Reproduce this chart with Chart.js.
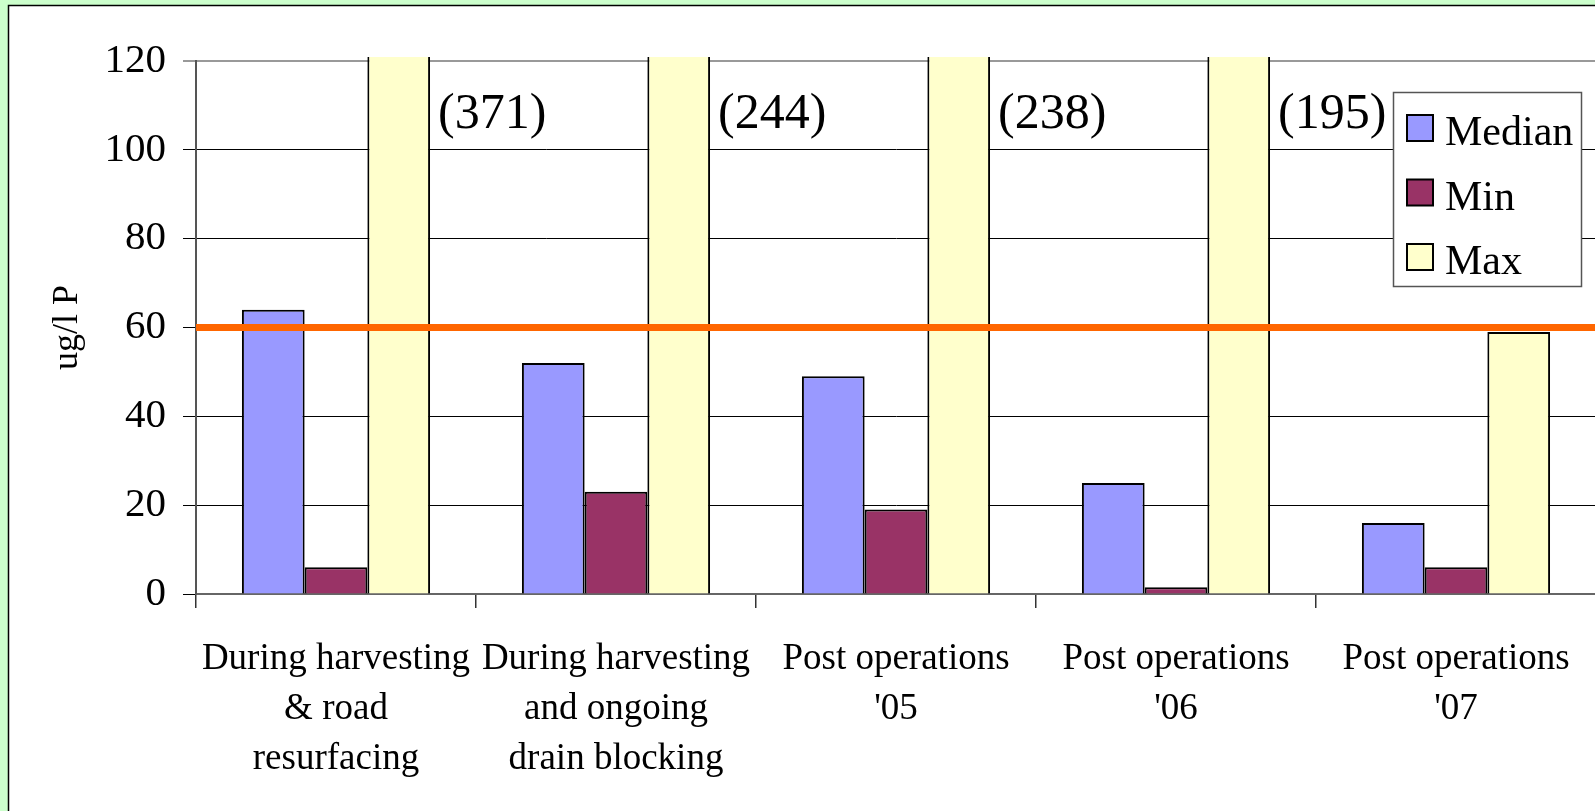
<!DOCTYPE html>
<html>
<head>
<meta charset="utf-8">
<title>Total P concentrations</title>
<script src="https://cdn.jsdelivr.net/npm/chart.js@4/dist/chart.umd.min.js"></script>
<style>
  html, body { margin: 0; padding: 0; overflow: hidden; background: #ccffcc; }
  #wrap { width: 1595px; height: 811px; overflow: hidden; }
  canvas { display: block; }
</style>
</head>
<body>
<div id="wrap"><canvas id="p-chart" width="1600" height="811"></canvas></div>
<script>
const categories = [
    ['During harvesting', '& road', 'resurfacing'],
    ['During harvesting', 'and ongoing', 'drain blocking'],
    ['Post operations', "'05"],
    ['Post operations', "'06"],
    ['Post operations', "'07"]
];
const medianValues = [64, 52, 49, 25, 16];
const minValues = [6, 23, 19, 1.5, 6];
const maxValues = [371, 244, 238, 195, 59];
const yTicks = [0, 20, 40, 60, 80, 100, 120];
const guideline = 60;
const seriesNames = ['Median', 'Min', 'Max'];
const seriesColors = ['#9999ff', '#993366', '#ffffcc'];

const serif = '"Liberation Serif", "Times New Roman", serif';

// green page with the white panel framed on the left and top
const framePlugin = {
    id: 'frame',
    beforeDraw(chart) {
        const {ctx, width, height} = chart;
        ctx.save();
        ctx.fillStyle = '#ccffcc';
        ctx.fillRect(0, 0, width, height);
        ctx.fillStyle = '#ffffff';
        ctx.fillRect(8, 5, width, height);
        ctx.strokeStyle = '#000000';
        ctx.lineWidth = 1.5;
        ctx.beginPath();
        ctx.moveTo(8.5, height);
        ctx.lineTo(8.5, 5.5);
        ctx.lineTo(width, 5.5);
        ctx.stroke();
        ctx.restore();
    }
};

// orange reference line across the plot
const guidelinePlugin = {
    id: 'guideline',
    afterDatasetsDraw(chart) {
        const {ctx, chartArea} = chart;
        const y = chart.scales.y.getPixelForValue(guideline);
        ctx.save();
        ctx.strokeStyle = '#ff6600';
        ctx.lineWidth = 7;
        ctx.beginPath();
        ctx.moveTo(chartArea.left, y);
        ctx.lineTo(chartArea.right, y);
        ctx.stroke();
        ctx.restore();
    }
};

// values of the max bars that run off the top of the axis
const offscalePlugin = {
    id: 'offscale',
    afterDatasetsDraw(chart) {
        const {ctx, chartArea} = chart;
        const yMax = chart.scales.y.max;
        const meta = chart.getDatasetMeta(2);
        ctx.save();
        ctx.fillStyle = '#000000';
        ctx.font = '50px ' + serif;
        ctx.textAlign = 'left';
        ctx.textBaseline = 'alphabetic';
        maxValues.forEach((v, i) => {
            if (v <= yMax) return;
            const bar = meta.data[i];
            ctx.fillText('(' + v + ')', bar.x + bar.width / 2 + 8, chartArea.top + 67);
        });
        ctx.restore();
    }
};

// boxed legend sitting inside the plot, top right
const boxLegendPlugin = {
    id: 'boxLegend',
    afterDraw(chart) {
        const {ctx} = chart;
        const left = 1393, top = 92, w = 188, h = 194;
        ctx.save();
        ctx.fillStyle = '#ffffff';
        ctx.fillRect(left, top, w, h);
        ctx.strokeStyle = '#555555';
        ctx.lineWidth = 1.5;
        ctx.strokeRect(left + 0.5, top + 0.5, w, h);
        ctx.font = '42px ' + serif;
        ctx.textBaseline = 'alphabetic';
        chart.data.datasets.forEach((ds, i) => {
            const cy = top + 36 + i * 64.5;
            ctx.fillStyle = ds.backgroundColor;
            ctx.fillRect(left + 14, cy - 13, 26, 26);
            ctx.strokeStyle = '#000000';
            ctx.lineWidth = 2;
            ctx.strokeRect(left + 14, cy - 13, 26, 26);
            ctx.fillStyle = '#000000';
            ctx.fillText(ds.label, left + 52, cy + 17);
        });
        ctx.restore();
    }
};

Chart.defaults.color = '#000000';
Chart.defaults.font.family = serif;

const seriesData = [medianValues, minValues, maxValues];

new Chart(document.getElementById('p-chart'), {
    type: 'bar',
    data: {
        labels: categories,
        datasets: seriesNames.map((name, i) => ({
            label: name,
            data: seriesData[i],
            backgroundColor: seriesColors[i],
            borderColor: '#000000',
            borderWidth: 2,
            categoryPercentage: 0.672,
            barPercentage: 1,
            clip: {left: 0, top: 4, right: 0, bottom: 0}
        }))
    },
    options: {
        responsive: false,
        animation: false,
        layout: {padding: {top: 61, left: 0, right: 4, bottom: 0}},
        plugins: {
            legend: {display: false},
            tooltip: {enabled: false}
        },
        scales: {
            x: {
                afterFit(scale) { scale.height = 217; },
                grid: {
                    offset: true,
                    drawOnChartArea: false,
                    drawTicks: true,
                    tickLength: 14,
                    color: '#333333',
                    lineWidth: 1.5
                },
                border: {color: '#666666', width: 2},
                ticks: {
                    autoSkip: false,
                    maxRotation: 0,
                    padding: 26,
                    font: {size: 37, lineHeight: 1.35}
                }
            },
            y: {
                min: 0,
                max: 120,
                afterFit(scale) { scale.width = 196; },
                afterBuildTicks(scale) { scale.ticks = yTicks.map(v => ({value: v})); },
                grid: {
                    color: ctx => (ctx.tick && ctx.tick.value === 120) ? '#999999' : '#000000',
                    lineWidth: ctx => (ctx.tick && ctx.tick.value === 120) ? 2 : 1,
                    tickLength: 13
                },
                border: {color: '#555555', width: 2},
                ticks: {
                    padding: 17,
                    font: {size: 41}
                },
                title: {
                    display: true,
                    text: 'ug/l P',
                    font: {size: 36, lineHeight: 1.2},
                    padding: {top: 46, bottom: 0}
                }
            }
        }
    },
    plugins: [framePlugin, guidelinePlugin, offscalePlugin, boxLegendPlugin]
});
</script>
</body>
</html>
